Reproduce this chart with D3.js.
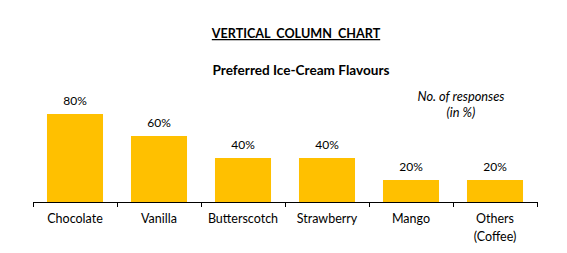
<!DOCTYPE html>
<html><head><meta charset="utf-8">
<script src="https://cdn.jsdelivr.net/npm/d3@7"></script>
<style>body{margin:0;background:#fff}svg{display:block}text{font-family:Lato,"Open Sans",sans-serif;fill:#000}</style>
</head><body><svg id="c" width="567" height="253"></svg>
<script>
const categories = ["Chocolate","Vanilla","Butterscotch","Strawberry","Mango","Others (Coffee)"];
const values = [80,60,40,40,20,20];
const valueLabels = ["80%","60%","40%","40%","20%","20%"];

const svg = d3.select("#c");
const x = d3.scaleBand().domain(categories).range([33,537]).paddingInner(0.333).paddingOuter(0.1665);
const y = d3.scaleLinear().domain([0,100]).range([202,92]);

svg.selectAll("rect.bar").data(values).join("rect").attr("class","bar")
  .attr("x",(d,i)=>x(categories[i])).attr("width",x.bandwidth())
  .attr("y",d=>y(d)).attr("height",d=>y(0)-y(d)).attr("fill","#FFC000");

svg.selectAll("text.val").data(values).join("text").attr("class","val")
  .attr("x",(d,i)=>x(categories[i])+x.bandwidth()/2).attr("y",d=>y(d)-9)
  .attr("text-anchor","middle").attr("font-size",12).text((d,i)=>valueLabels[i]);

// axis
const step = x.step();
const tickPos = d3.range(categories.length+1).map(i=>33+i*step);
svg.append("line").attr("x1",33).attr("x2",537).attr("y1",202.5).attr("y2",202.5).attr("stroke","#000");
svg.selectAll("line.tick").data(tickPos).join("line").attr("class","tick")
  .attr("x1",d=>Math.round(d)+0.5).attr("x2",d=>Math.round(d)+0.5).attr("y1",202).attr("y2",207).attr("stroke","#000");

categories.forEach((c,i)=>{
  const cx = x(c)+x.bandwidth()/2;
  const parts = c==="Others (Coffee)" ? ["Others","(Coffee)"] : [c];
  parts.forEach((p,j)=>{
    svg.append("text").attr("x",cx).attr("y",223+j*18).attr("text-anchor","middle").attr("font-size",12.5).text(p);
  });
});

svg.append("text").attr("x",296).attr("y",38).attr("text-anchor","middle").attr("font-size",12.6).attr("font-weight","bold")
  .attr("text-decoration","underline").text("VERTICAL  COLUMN  CHART").style("white-space","pre");
svg.append("text").attr("x",301).attr("y",75).attr("text-anchor","middle").attr("font-size",13.6).attr("font-weight","bold").text("Preferred Ice-Cream Flavours");
svg.append("text").attr("x",461).attr("y",101).attr("text-anchor","middle").attr("font-size",12.8).attr("font-style","italic").text("No. of responses");
svg.append("text").attr("x",461).attr("y",117).attr("text-anchor","middle").attr("font-size",12.8).attr("font-style","italic").text("(in %)");
</script></body></html>
